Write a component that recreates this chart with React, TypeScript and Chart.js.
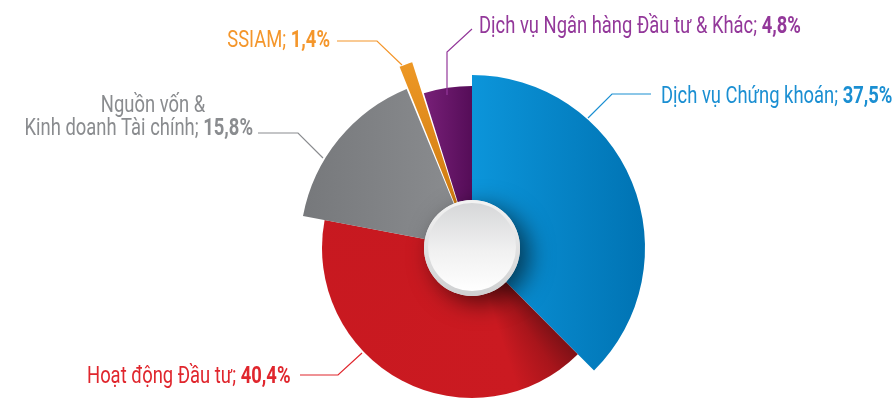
import React, { useEffect, useRef } from 'react';
import { Chart, registerables } from 'chart.js';

Chart.register(...registerables);

// ---- data ----
const categories = [
  'Dịch vụ Chứng khoán',
  'Hoạt động Đầu tư',
  'Nguồn vốn & Kinh doanh Tài chính',
  'SSIAM',
  'Dịch vụ Ngân hàng Đầu tư & Khác',
];
const shares = [37.5, 40.4, 15.8, 1.4, 4.8];
const shareLabels = ['37,5%', '40,4%', '15,8%', '1,4%', '4,8%'];
const labelLines = [
  ['Dịch vụ Chứng khoán; '],
  ['Hoạt động Đầu tư; '],
  ['Nguồn vốn &', 'Kinh doanh Tài chính; '],
  ['SSIAM; '],
  ['Dịch vụ Ngân hàng Đầu tư & Khác; '],
];

// ---- styles ----
const sliceColors = [
  ['#0c95da', '#0073b3'],
  ['#cb1a21', '#c1161e'],
  ['#76787b', '#8c8e91'],
  ['#f29c28', '#c8740c'],
  ['#792079', '#550d58'],
];
const textColors = ['#1b8fd2', '#e0262d', '#8a8c8f', '#f4962b', '#93389a'];
const sliceRadius = [173, 150, 172, 176, 162];
const sliceOffset = [0, 0, 0, 40, 0];

const FS = 23;
const SX = 0.8;
const LINE_H = 23;
const FAMILY = 'Roboto, "Liberation Sans", sans-serif';

type Align = 'left' | 'right' | 'center';
type Lay = { x: number[]; y: number; align: Align[]; line: number[][] };
const labelLayout: Lay[] = [
  { x: [661], y: 103, align: ['left'], line: [[651, 94], [612, 94], [588, 118]] },
  { x: [87], y: 383, align: ['left'], line: [[300, 375], [338, 375], [362, 353]] },
  { x: [153, 253], y: 135, align: ['center', 'right'], line: [[258, 133], [298, 133], [323, 158]] },
  { x: [330], y: 47, align: ['right'], line: [[337, 41], [377, 41], [402, 65]] },
  { x: [479], y: 33, align: ['left'], line: [[472, 29], [447, 52], [447, 95]] },
];

function drawLabel(ctx: CanvasRenderingContext2D, i: number) {
  const lay = labelLayout[i];
  const lines = labelLines[i];
  const color = textColors[i];
  // leader line
  ctx.save();
  ctx.strokeStyle = color;
  ctx.lineWidth = 1.2;
  ctx.beginPath();
  lay.line.forEach((p, k) => (k === 0 ? ctx.moveTo(p[0], p[1]) : ctx.lineTo(p[0], p[1])));
  ctx.stroke();
  ctx.restore();

  ctx.fillStyle = color;
  ctx.textBaseline = 'alphabetic';
  ctx.textAlign = 'left';
  lines.forEach((txt, li) => {
    const isLast = li === lines.length - 1;
    const y = lay.y - LINE_H * (lines.length - 1 - li);
    ctx.font = `${FS}px ${FAMILY}`;
    const w1 = ctx.measureText(txt).width;
    let w2 = 0;
    if (isLast) {
      ctx.font = `bold ${FS}px ${FAMILY}`;
      w2 = ctx.measureText(shareLabels[i]).width;
    }
    const total = (w1 + w2) * SX;
    const ax = lay.x[li];
    const al = lay.align[li];
    const x0 = al === 'left' ? ax : al === 'right' ? ax - total : ax - total / 2;
    ctx.save();
    ctx.translate(x0, y);
    ctx.scale(SX, 1);
    ctx.font = `${FS}px ${FAMILY}`;
    ctx.fillText(txt, 0, 0);
    if (isLast) {
      ctx.font = `bold ${FS}px ${FAMILY}`;
      ctx.fillText(shareLabels[i], w1, 0);
    }
    ctx.restore();
  });
}

const sliceShape = {
  id: 'sliceShape',
  afterDatasetsUpdate(chart: any) {
    const meta = chart.getDatasetMeta(0);
    meta.data.forEach((arc: any, i: number) => {
      arc.outerRadius = sliceRadius[i];
    });
  },
};

const hubAndLabels = {
  id: 'hubAndLabels',
  afterDatasetsDraw(chart: any) {
    const ctx: CanvasRenderingContext2D = chart.ctx;
    const arc = chart.getDatasetMeta(0).data[0];
    if (!arc) return;
    const cx = arc.x;
    const cy = arc.y;
    const R = 48;
    // shadowed disc
    ctx.save();
    ctx.shadowColor = 'rgba(0,0,0,0.6)';
    ctx.shadowBlur = 24;
    ctx.shadowOffsetX = 9;
    ctx.shadowOffsetY = 7;
    ctx.beginPath();
    ctx.arc(cx, cy, R, 0, Math.PI * 2);
    ctx.fillStyle = '#e4e4e5';
    ctx.fill();
    ctx.restore();
    // rim
    ctx.save();
    let g = ctx.createLinearGradient(0, cy - R, 0, cy + R);
    g.addColorStop(0, '#f3f3f3');
    g.addColorStop(1, '#cfd0d1');
    ctx.beginPath();
    ctx.arc(cx, cy, R, 0, Math.PI * 2);
    ctx.fillStyle = g;
    ctx.fill();
    // face
    g = ctx.createLinearGradient(0, cy - R + 3, 0, cy + R - 4);
    g.addColorStop(0, '#d6d7d9');
    g.addColorStop(0.55, '#f1f1f1');
    g.addColorStop(1, '#ffffff');
    ctx.beginPath();
    ctx.arc(cx, cy - 1, R - 4, 0, Math.PI * 2);
    ctx.fillStyle = g;
    ctx.fill();
    ctx.restore();
  },
  afterDraw(chart: any) {
    const ctx: CanvasRenderingContext2D = chart.ctx;
    for (let i = 0; i < categories.length; i++) drawLabel(ctx, i);
  },
};

function sliceFill(c: any) {
  const i = c.dataIndex ?? 0;
  const chart = c.chart;
  const a = chart.chartArea;
  if (!a || c.type !== 'data') return sliceColors[i][0];
  const ctx: any = chart.ctx;
  const cx = (a.left + a.right) / 2;
  const cy = (a.top + a.bottom) / 2;
  const r = sliceRadius[i];
  let g: CanvasGradient;
  if (i === 0) g = ctx.createLinearGradient(cx, 0, cx + r, 0);
  else if (i === 1 && ctx.createConicGradient) {
    // start angle of this slice: sum of earlier shares
    const before = shares.slice(0, i).reduce((s, v) => s + v, 0);
    const total = shares.reduce((s, v) => s + v, 0);
    const start = -Math.PI / 2 + (before / total) * Math.PI * 2;
    g = ctx.createConicGradient(start, cx, cy);
    g.addColorStop(0, '#7e1116');
    g.addColorStop(0.03, '#a8151b');
    g.addColorStop(0.075, sliceColors[i][0]);
    g.addColorStop(1, sliceColors[i][1]);
    return g;
  } else if (i === 2) g = ctx.createLinearGradient(cx - r, 0, cx, 0);
  else if (i === 3) g = ctx.createLinearGradient(0, cy - r - 20, 0, cy);
  else g = ctx.createLinearGradient(cx - 50, 0, cx, 0);
  g.addColorStop(0, sliceColors[i][0]);
  g.addColorStop(1, sliceColors[i][1]);
  return g;
}

export default function App() {
  const ref = useRef<HTMLCanvasElement | null>(null);
  useEffect(() => {
    if (!ref.current) return;
    const chart = new Chart(ref.current, {
      type: 'doughnut',
      data: {
        labels: categories,
        datasets: [
          {
            data: shares,
            backgroundColor: sliceFill,
            borderWidth: 0,
            offset: sliceOffset,
            clip: false,
          } as any,
        ],
      },
      options: {
        responsive: false,
        animation: false,
        events: [],
        radius: 173,
        cutout: 0,
        layout: { padding: { left: 51, right: 0, top: 95, bottom: 0 } },
        plugins: { legend: { display: false }, tooltip: { enabled: false } },
      } as any,
      plugins: [sliceShape, hubAndLabels],
    });
    return () => chart.destroy();
  }, []);
  return (
    <div style={{ position: 'fixed', left: 0, top: 0, width: 893, height: 401, background: '#fff' }}>
      <canvas ref={ref} width={893} height={401} style={{ display: 'block', width: 893, height: 401 }} />
    </div>
  );
}
